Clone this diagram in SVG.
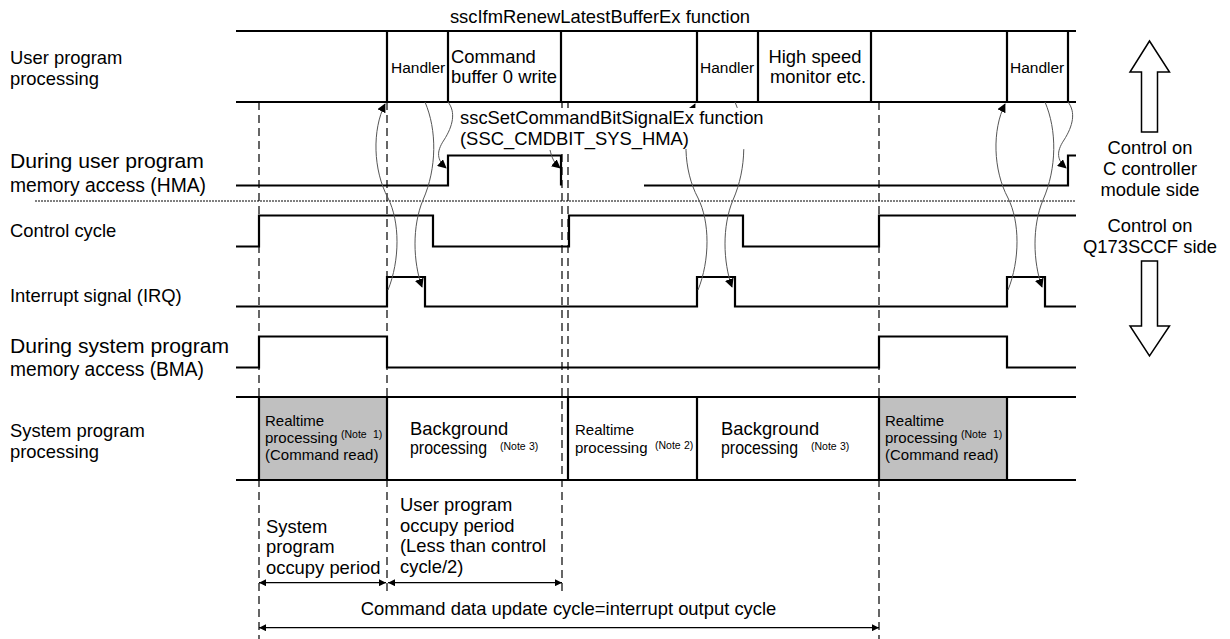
<svg xmlns="http://www.w3.org/2000/svg" width="1230" height="639" viewBox="0 0 1230 639">
<style>
text{font-family:"Liberation Sans",Arial,sans-serif;fill:#000;font-size:18.4px}
.sm{font-size:15px}
.hd{font-size:15.5px}
.big{font-size:20.5px}
.note{font-size:10.5px}
.sig{fill:none;stroke:#000;stroke-width:2.2}
.dash{fill:none;stroke:#000;stroke-width:1.2;stroke-dasharray:8 5}
.dot{fill:none;stroke:#000;stroke-width:1;stroke-dasharray:2 1}
.cv{fill:none;stroke:#555;stroke-width:1}
.dim{fill:none;stroke:#000;stroke-width:1.3}
.hol{fill:#fff;stroke:#000;stroke-width:1.5}
</style>
<defs>
<marker id="ah" viewBox="0 0 10 10" refX="9" refY="5" markerWidth="9" markerHeight="9" markerUnits="userSpaceOnUse" orient="auto"><path d="M0,0 L10,5 L0,10 z" fill="#000"/></marker>
<marker id="dh" viewBox="0 0 10 10" refX="10" refY="5" markerWidth="8" markerHeight="7" markerUnits="userSpaceOnUse" orient="auto-start-reverse"><path d="M0,0 L10,5 L0,10 z" fill="#000"/></marker>
</defs>

<g id="labels">
<text x="10" y="64">User program</text>
<text x="10" y="85">processing</text>
<text class="big" x="10" y="168" textLength="194" lengthAdjust="spacingAndGlyphs">During user program</text>
<text class="big" x="10" y="192" textLength="196" lengthAdjust="spacingAndGlyphs">memory access (HMA)</text>
<text x="10" y="237">Control cycle</text>
<text x="10" y="302">Interrupt signal (IRQ)</text>
<text class="big" x="10" y="353" textLength="219" lengthAdjust="spacingAndGlyphs">During system program</text>
<text class="big" x="10" y="376" textLength="194" lengthAdjust="spacingAndGlyphs">memory access (BMA)</text>
<text x="10" y="437">System program</text>
<text x="10" y="458">processing</text>
<text x="600" y="23" text-anchor="middle">sscIfmRenewLatestBufferEx function</text>
</g>

<g id="user-program">
<path class="sig" d="M236,31 H1076 M236,102 H1076 M387,31 V102 M448,31 V102 M561,31 V102 M697,31 V102 M758,31 V102 M871,31 V102 M1007,31 V102 M1068,31 V102"/>
<text class="hd" x="391" y="73">Handler</text>
<text x="451" y="63">Command</text>
<text x="451" y="83">buffer 0 write</text>
<text class="hd" x="700" y="73">Handler</text>
<text x="815" y="63" text-anchor="middle">High speed</text>
<text x="818" y="83" text-anchor="middle">monitor etc.</text>
<text class="hd" x="1010" y="73">Handler</text>
</g>

<g id="dashed-lines">
<path class="dash" d="M259,102 V639 M387,102 V595 M562,102 V595 M568,102 V397 M879,102 V639"/>
<path class="dot" d="M35,201 H1076"/>
</g>

<g id="signals">
<path class="sig" d="M236,185.5 H448 V155.5 H561 V185.5"/>
<path class="sig" d="M644,185.5 H1068 V155.5 H1076"/>
<path class="sig" d="M236,246.5 H259 V215.5 H433 V246.5 H569 V215.5 H743 V246.5 H879 V215.5 H1076"/>
<path class="sig" d="M236,306.5 H387 V277 H425 V306.5 H697 V277 H735 V306.5 H1007 V277 H1045 V306.5 H1076"/>
<path class="sig" d="M236,367.5 H259 V336.5 H387 V367.5 H879 V336.5 H1007 V367.5 H1076"/>
</g>

<g id="connectors">
<path class="cv" marker-end="url(#ah)" d="M388,290 C400,260 400,222 388,198 C373,170 372,130 385,104"/>
<path class="cv" marker-end="url(#ah)" d="M425,102 C437,130 437,168 423,200 C412,226 413,262 422,287"/>
<path class="cv" marker-end="url(#ah)" d="M448,102 C456,112 453,126 444,140 C436,152 437,160 446,168"/>
<path class="cv" marker-end="url(#ah)" d="M550,150 C552,158 554,163 560,168"/>
<path class="cv" marker-end="url(#ah)" d="M698,290 C710,260 710,222 698,198 C683,170 682,130 695,104"/>
<path class="cv" marker-end="url(#ah)" d="M735,102 C747,130 747,168 733,200 C722,226 723,262 732,287"/>
<path class="cv" marker-end="url(#ah)" d="M1008,290 C1020,260 1020,222 1008,198 C993,170 992,130 1005,104"/>
<path class="cv" marker-end="url(#ah)" d="M1045,102 C1057,130 1057,168 1043,200 C1032,226 1033,262 1042,287"/>
<path class="cv" marker-end="url(#ah)" d="M1068,102 C1076,112 1073,126 1064,140 C1056,152 1057,160 1066,168"/>
</g>

<g id="hma-call">
<rect x="456" y="108" width="316" height="41" fill="#fff"/>
<text x="460" y="124">sscSetCommandBitSignalEx function</text>
<text x="460" y="145">(SSC_CMDBIT_SYS_HMA)</text>
</g>

<g id="system-program">
<rect x="259" y="397" width="128" height="83" fill="#c0c0c0"/>
<rect x="879" y="397" width="128" height="83" fill="#c0c0c0"/>
<path class="sig" d="M236,397 H1076 M236,480 H1076 M259,397 V480 M387,397 V480 M568,397 V480 M697,397 V480 M879,397 V480 M1007,397 V480"/>
<text class="sm" x="265" y="426">Realtime</text>
<text class="sm" x="265" y="443">processing</text>
<text class="note" x="341" y="438">(Note</text><text class="note" x="373" y="438">1)</text>
<text class="sm" x="265" y="460">(Command read)</text>
<text x="410" y="435">Background</text>
<text x="410" y="454" textLength="77" lengthAdjust="spacingAndGlyphs">processing</text>
<text class="note" x="500" y="450">(Note</text><text class="note" x="529" y="450">3)</text>
<text class="sm" x="575" y="435">Realtime</text>
<text class="sm" x="575" y="453">processing</text>
<text class="note" x="655" y="449">(Note</text><text class="note" x="684" y="449">2)</text>
<text x="721" y="435">Background</text>
<text x="721" y="454" textLength="77" lengthAdjust="spacingAndGlyphs">processing</text>
<text class="note" x="811" y="450">(Note</text><text class="note" x="840" y="450">3)</text>
<text class="sm" x="885" y="426">Realtime</text>
<text class="sm" x="885" y="443">processing</text>
<text class="note" x="961" y="438">(Note</text><text class="note" x="993" y="438">1)</text>
<text class="sm" x="885" y="460">(Command read)</text>
</g>

<g id="periods">
<text x="266" y="533">System</text>
<text x="266" y="553">program</text>
<text x="266" y="573.5">occupy period</text>
<text x="400" y="511">User program</text>
<text x="400" y="531.5">occupy period</text>
<text x="400" y="552">(Less than control</text>
<text x="400" y="572.5">cycle/2)</text>
<path class="dim" marker-start="url(#dh)" marker-end="url(#dh)" d="M259,582.7 H386"/>
<path class="dim" marker-start="url(#dh)" marker-end="url(#dh)" d="M388,582.7 H562"/>
<text x="568.5" y="615" text-anchor="middle">Command data update cycle=interrupt output cycle</text>
<path class="dim" marker-start="url(#dh)" marker-end="url(#dh)" d="M259,627.7 H879"/>
</g>

<g id="control-side">
<polygon class="hol" points="1149.5,41 1169.5,72 1157.5,72 1157.5,132 1141.5,132 1141.5,72 1130,72"/>
<text x="1150" y="154" text-anchor="middle">Control on</text>
<text x="1150" y="175" text-anchor="middle">C controller</text>
<text x="1150" y="196" text-anchor="middle">module side</text>
<text x="1150" y="232" text-anchor="middle">Control on</text>
<text x="1150" y="253" text-anchor="middle">Q173SCCF side</text>
<polygon class="hol" points="1141.5,261 1157.5,261 1157.5,326 1169.5,326 1149.5,356 1130,326 1141.5,326"/>
</g>
</svg>
